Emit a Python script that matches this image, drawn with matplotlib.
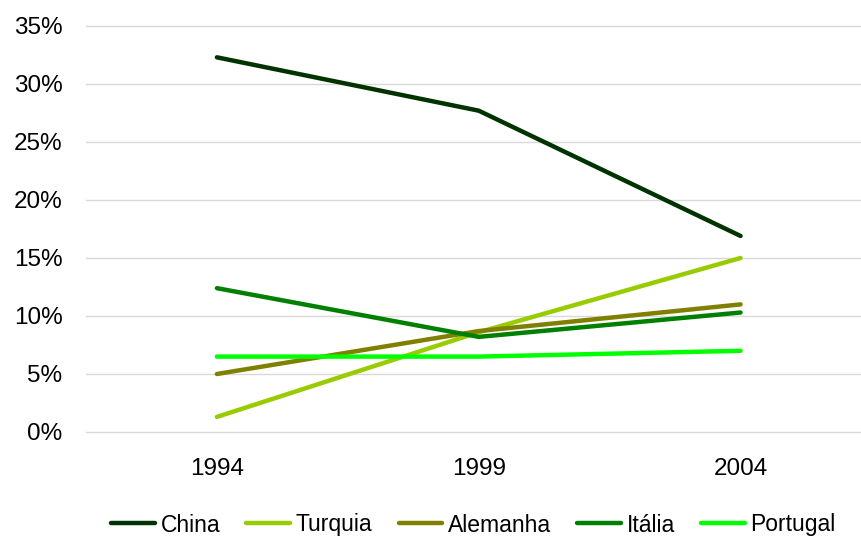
import matplotlib
matplotlib.use("Agg")
import matplotlib.pyplot as plt
from matplotlib.ticker import FuncFormatter

plt.rcParams["font.family"] = ["Liberation Sans", "DejaVu Sans"]

anos = ["1994", "1999", "2004"]
china = [32.3, 27.7, 16.9]
turquia = [1.3, 8.6, 15.0]
alemanha = [5.0, 8.7, 11.0]
italia = [12.4, 8.2, 10.3]
portugal = [6.5, 6.5, 7.0]

series = [
    ("China", china, "#003300"),
    ("Turquia", turquia, "#99cc00"),
    ("Alemanha", alemanha, "#808000"),
    ("Itália", italia, "#008000"),
    ("Portugal", portugal, "#00ff00"),
]

fig = plt.figure(figsize=(8.61, 5.37), dpi=100)
ax = fig.add_axes([86 / 861, 1 - 432 / 537, 1 - 86 / 861, 406 / 537])

x = list(range(len(anos)))
for nome, vals, cor in series:
    ax.plot(x, vals, color=cor, lw=3.2, label=nome, solid_capstyle="round")

ax.set_ylim(0, 35)
ax.set_xlim(-0.5, 2.46)
ax.set_yticks(range(0, 36, 5))
ax.yaxis.set_major_formatter(FuncFormatter(lambda v, p: f"{int(v)}%"))
ax.set_xticks(x)
ax.set_xticklabels(anos)
ax.grid(axis="y", color="#d9d9d9", lw=1)
for gl in ax.get_ygridlines():
    gl.set_clip_on(False)
ax.set_axisbelow(True)
for s in ax.spines.values():
    s.set_visible(False)
ax.tick_params(length=0, labelsize=17.5, colors="black")
ax.tick_params(axis="y", pad=17)
ax.tick_params(axis="x", pad=19)

leg = fig.legend(loc="center", bbox_to_anchor=(0.55, 1 - 525 / 537), ncol=5,
                 frameon=False, handlelength=1.9, columnspacing=1.15,
                 handletextpad=0.25, prop={"size": 16.5})

fig.savefig("out.png", dpi=100)
